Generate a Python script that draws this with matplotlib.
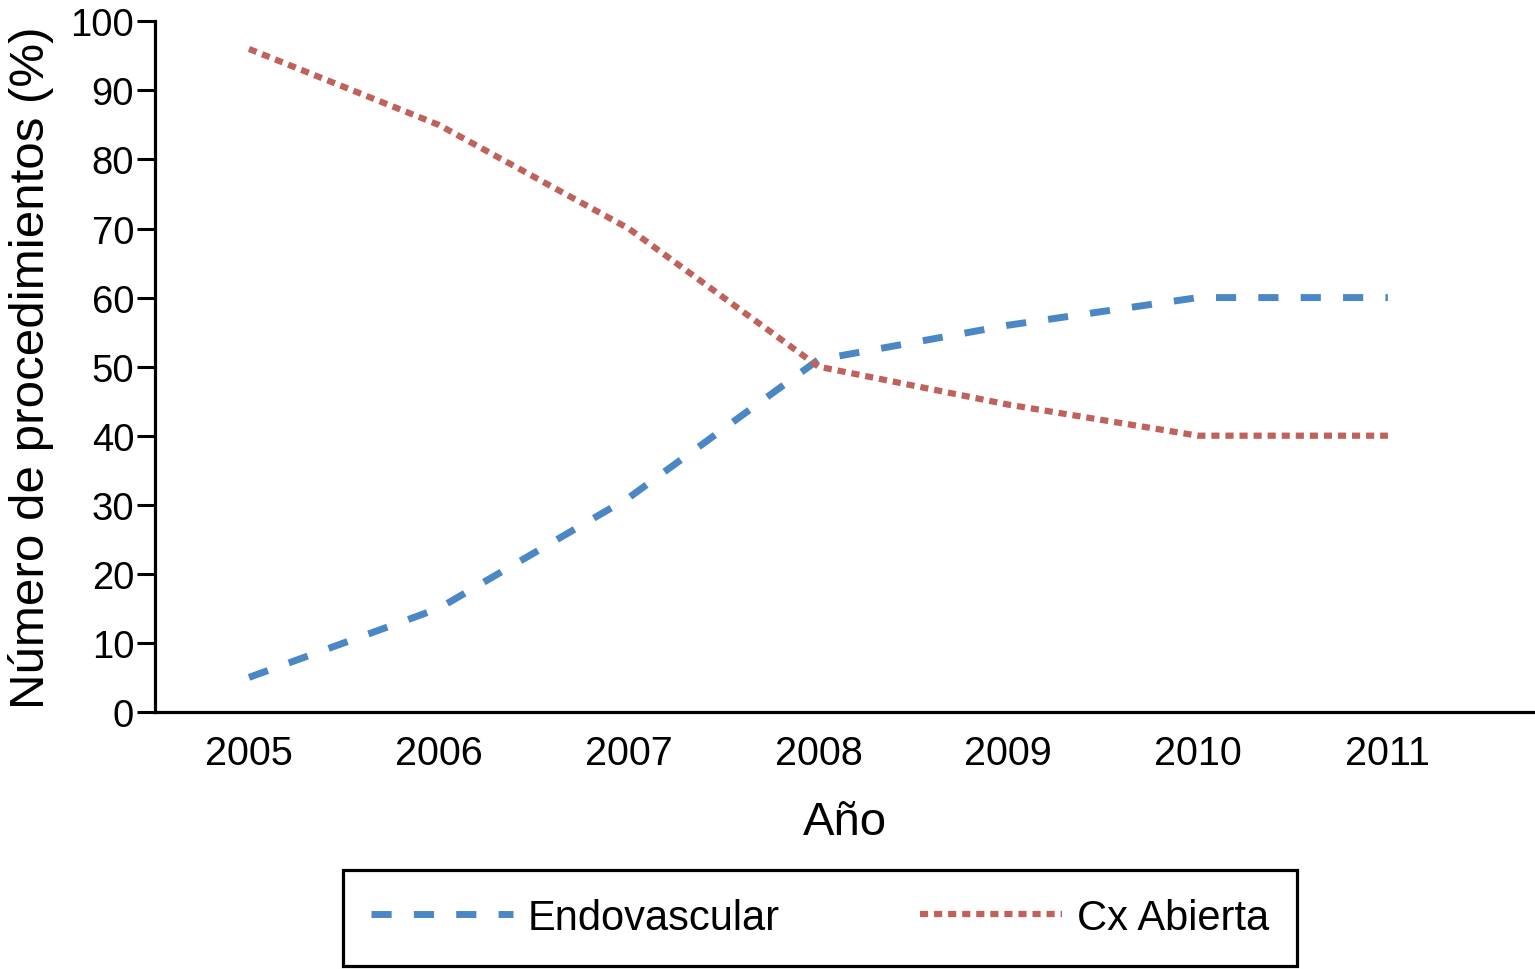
import matplotlib.pyplot as plt
import numpy as np

plt.rcParams['font.family'] = ['Liberation Sans', 'DejaVu Sans']

years = [2005, 2006, 2007, 2008, 2009, 2010, 2011]
endovascular = [5, 15, 31, 51, 56, 60, 60]
cx_abierta = [96, 85, 70, 50, 44.5, 40, 40]

fig = plt.figure(figsize=(15.35, 9.7), dpi=100)
ax = fig.add_axes([0.101, 0.265, 0.899, 0.712])

ax.plot(years, endovascular, color='#4a87c4', lw=5, linestyle=(0, (2.9, 3.2)),
        label='Endovascular')
ax.plot(years, cx_abierta, color='#c0625c', lw=4.5, linestyle=(0, (1.3, 0.95)),
        label='Cx Abierta')

ax.set_xlim(2004.505, 2011.775)
ax.set_ylim(0, 100)
ax.set_xticks(years)
ax.set_yticks(np.arange(0, 101, 10))

for s in ['top', 'right']:
    ax.spines[s].set_visible(False)
for s in ['left', 'bottom']:
    ax.spines[s].set_linewidth(2.3)

ax.tick_params(axis='y', direction='out', length=13, width=2.2, labelsize=27.5, pad=2)
ax.tick_params(axis='x', length=0, labelsize=28.5, pad=16)

ax.set_xlabel('Año', fontsize=34, labelpad=20)
ax.set_ylabel('Número de procedimientos (%)', fontsize=35.5, labelpad=12)

leg = fig.legend(loc='center', bbox_to_anchor=(0.2235, 0.002, 0.6215, 0.101),
                 mode='expand', borderaxespad=0, ncol=2, fontsize=30,
                 handlelength=3.4, handletextpad=0.35, columnspacing=2.5,
                 borderpad=0.68, fancybox=False, edgecolor='black', framealpha=1)
leg.get_frame().set_linewidth(2.3)

fig.savefig('out.png', dpi=100)
